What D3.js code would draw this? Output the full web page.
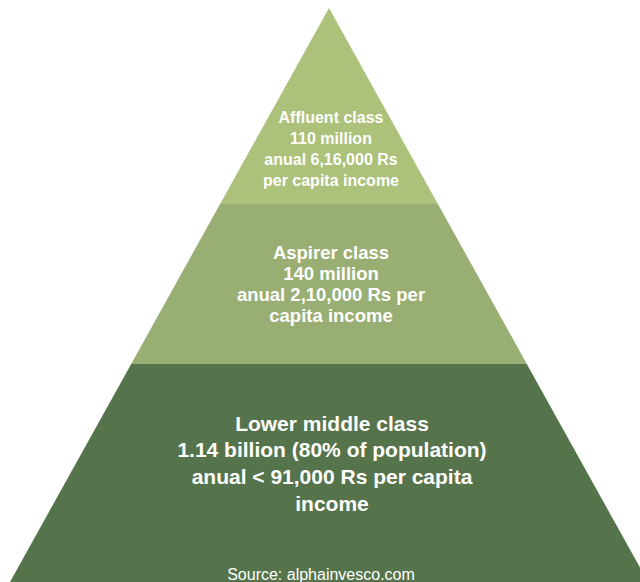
<!DOCTYPE html>
<html>
<head>
<meta charset="utf-8">
<script src="https://cdn.jsdelivr.net/npm/d3@7"></script>
<style>
  html, body { margin: 0; padding: 0; background: #ffffff; }
  svg { display: block; }
</style>
</head>
<body>
<svg id="chart" width="640" height="582"></svg>
<script>
// ---- data ----
const classes = ["Affluent class", "Aspirer class", "Lower middle class"];
const populations = ["110 million", "140 million", "1.14 billion (80% of population)"];
const incomeLines = [
  ["anual 6,16,000 Rs", "per capita income"],
  ["anual 2,10,000 Rs per", "capita income"],
  ["anual < 91,000 Rs per capita", "income"]
];
const layerShare = [0.34, 0.28, 0.38];   // share of pyramid height per layer (top to bottom)
const layerColors = ["#acc179", "#98ae73", "#56744b"];
const sourceText = "Source: alphainvesco.com";

// ---- layout ----
const apex = { x: 329, y: 8 };
const baseY = 582;
const baseHalf = 319;

const svg = d3.select("#chart");

const cum = [0];
layerShare.forEach((s, i) => cum.push(cum[i] + s));
const y = d3.scaleLinear().domain([0, 1]).range([apex.y, baseY]);
const halfW = d3.scaleLinear().domain([0, 1]).range([0, baseHalf]);

const layers = classes.map((c, i) => ({
  name: c,
  pop: populations[i],
  income: incomeLines[i],
  t0: cum[i],
  t1: cum[i + 1],
  color: layerColors[i]
}));

svg.selectAll("path.layer")
  .data(layers)
  .join("path")
  .attr("class", "layer")
  .attr("fill", d => d.color)
  .attr("d", d => {
    const y0 = y(d.t0), y1 = y(d.t1);
    const w0 = halfW(d.t0), w1 = halfW(d.t1);
    return `M${apex.x - w0},${y0}L${apex.x + w0},${y0}L${apex.x + w1},${y1}L${apex.x - w1},${y1}Z`;
  });

const fontSizes = [16, 18.5, 21];
const lineGaps = [21, 21, 26.7];
const textCenterFrac = [0.72, 0.5, 0.455];
const textX = [331, 331, 332];

layers.forEach((d, i) => {
  const lines = [d.name, d.pop, ...d.income];
  const yTop = y(d.t0), yBot = y(d.t1);
  const center = yTop + (yBot - yTop) * textCenterFrac[i];
  const n = lines.length;
  const fs = fontSizes[i];
  const g = svg.append("text")
    .attr("text-anchor", "middle")
    .attr("fill", "#ffffff")
    .attr("font-family", "'Liberation Sans', Arial, sans-serif")
    .attr("font-weight", "bold")
    .attr("font-size", fs + "px");
  lines.forEach((ln, k) => {
    g.append("tspan")
      .attr("x", textX[i])
      .attr("y", center + (k - (n - 1) / 2) * lineGaps[i] + fs * 0.36)
      .text(ln);
  });
});

svg.append("text")
  .attr("x", 321)
  .attr("y", 580)
  .attr("text-anchor", "middle")
  .attr("fill", "#ffffff")
  .attr("font-family", "'Liberation Sans', Arial, sans-serif")
  .attr("font-size", "16px")
  .text(sourceText);
</script>
</body>
</html>
